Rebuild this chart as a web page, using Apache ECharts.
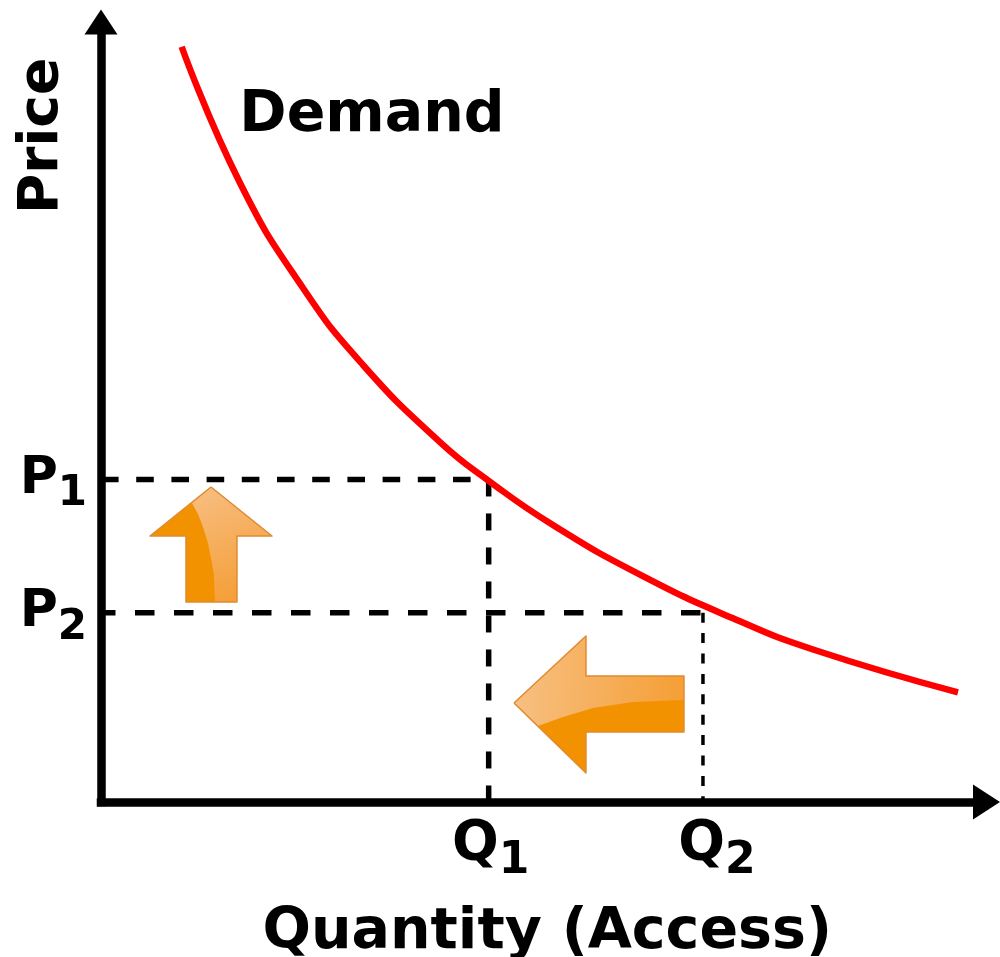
<!DOCTYPE html>
<html><head><meta charset="utf-8">
<style>html,body{margin:0;padding:0;background:#fff}#c{width:1000px;height:957px}</style>
<script src="https://cdn.jsdelivr.net/npm/echarts@6/dist/echarts.min.js"></script>
</head><body><div id="c"></div>
<script>
const demandCurve = [[9.11,96.83],[15.70,79.36],[22.81,65.90],[29.59,56.03],[38.28,46.15],[43.82,41.15],[51.04,35.51],[60.87,29.15],[71.37,23.55],[80.41,19.55],[96.78,14.06]];
const P1 = 41.35, P2 = 24.27, Q1 = 43.78, Q2 = 67.98;
const priceTicks = [P2, P1];
const quantityTicks = [Q1, Q2];
const priceLabels = {[P1]:'{m|P}{s|1}',[P2]:'{m|P}{s|2}'};
const quantityLabels = {[Q1]:'{q1|Q}{s2|1}',[Q2]:'{q2|Q}{s2|2}'};
const demandLabel = [[30.6,87.9]];
const arrows = [[12.42,32.95,'up'],[56.35,12.44,'left']];

const FONT = '"DejaVu Sans"';
const arrowShapes = {
  up:{ outline:[[0,-58],[61,-9],[26,-9],[26,57],[-25,57],[-25,-9],[-61,-9]],
       light:[[-19,-42],[0,-58],[61,-9],[26,-9],[26,57],[4,57],[3,30],[1,18],[-3,-2],[-8,-18],[-13,-31]],
       lightFill:[0.2,0,0.8,1,'#f7bd80','#f59c30']},
  left:{ outline:[[-86,-2],[-14,-69],[-14,-29],[84,-29],[84,27],[-14,27],[-14,68]],
       light:[[-62,21],[-86,-2],[-14,-69],[-14,-29],[84,-29],[84,-5],[33,-3],[-7,3],[-37,12]],
       lightFill:[0,0.2,1,0.3,'#f7c083','#f59f36']}
};
function renderArrow(params, api){
  const c = api.coord([api.value(0),api.value(1)]);
  const s = arrowShapes[arrows[params.dataIndex][2]];
  const g = s.lightFill;
  return {type:'group',x:c[0],y:c[1],children:[
    {type:'polygon',shape:{points:s.outline},style:{fill:'#f39200'}},
    {type:'polygon',shape:{points:s.light},style:{fill:new echarts.graphic.LinearGradient(g[0],g[1],g[2],g[3],[{offset:0,color:g[4]},{offset:1,color:g[5]}])}},
    {type:'polyline',shape:{points:s.outline.concat([s.outline[0]])},style:{fill:null,stroke:'#e08a32',lineWidth:1.5,lineJoin:'round'}}
  ]};
}
const rich = {
  m:{fontFamily:FONT,fontWeight:'bold',fontSize:52,color:'#000'},
  s:{fontFamily:FONT,fontWeight:'bold',fontSize:42,color:'#000',verticalAlign:'bottom',padding:[34,0,4,0]},
  q1:{fontFamily:FONT,fontWeight:'bold',fontSize:55,color:'#000',padding:[0,0,0,4]},
  q2:{fontFamily:FONT,fontWeight:'bold',fontSize:55,color:'#000',padding:[0,0,0,28]},
  s2:{fontFamily:FONT,fontWeight:'bold',fontSize:44,color:'#000',verticalAlign:'bottom',padding:[34,0,0,0]}
};
const chart = echarts.init(document.getElementById('c'),null,{renderer:'canvas'});
chart.setOption({
  animation:false,
  backgroundColor:'#fff',
  grid:{left:101,right:13.5,top:22,bottom:155,outerBoundsMode:'none'},
  xAxis:{type:'value',min:0,max:100,
    name:'Quantity (Access)',nameLocation:'middle',nameGap:103,
    nameTextStyle:{fontFamily:FONT,fontWeight:'bold',fontSize:57,color:'#000',padding:[0,0,0,7]},
    axisLine:{onZero:false,lineStyle:{color:'#000',width:8.5,cap:'square'},symbol:['none','triangle'],symbolSize:[35,27]},
    axisTick:{show:false},splitLine:{show:false},
    axisLabel:{customValues:quantityTicks,margin:4,formatter:v=>quantityLabels[v],rich}
  },
  yAxis:{type:'value',min:0,max:100,
    name:'Price',nameLocation:'end',nameRotate:90,nameGap:-192,
    nameTextStyle:{fontFamily:FONT,fontWeight:'bold',fontSize:55,color:'#000',verticalAlign:'bottom',padding:[0,0,31,0]},
    axisLine:{onZero:false,lineStyle:{color:'#000',width:8.5,cap:'square'},symbol:['none','triangle'],symbolSize:[33,25]},
    axisTick:{show:false},splitLine:{show:false},
    axisLabel:{customValues:priceTicks,margin:14,formatter:v=>priceLabels[v],rich}
  },
  series:[
    {name:'P2 guide',type:'line',symbol:'none',silent:true,data:[[0,P2],[Q2,P2]],lineStyle:{color:'#000',width:5.5,type:[19.5,19.5],dashOffset:5}},
    {name:'Q2 drop',type:'line',symbol:'none',silent:true,data:[[Q2,P2],[Q2,0]],lineStyle:{color:'#000',width:3.5,type:[10,10.4]}},
    {name:'P1 guide',type:'line',symbol:'none',silent:true,data:[[0,P1],[Q1,P1]],lineStyle:{color:'#000',width:5.5,type:[17.6,17.6]}},
    {name:'Q1 drop',type:'line',symbol:'none',silent:true,data:[[Q1,P1],[Q1,0]],lineStyle:{color:'#000',width:5.5,type:[17,17]}},
    {name:'Demand',type:'line',symbol:'none',smooth:0.5,data:demandCurve,lineStyle:{color:'#ff0000',width:6.5,cap:'butt'},z:5},
    {name:'Demand label',type:'scatter',symbolSize:0,data:demandLabel,z:6,itemStyle:{opacity:1},
      label:{show:true,position:'inside',formatter:'Demand',fontFamily:FONT,fontWeight:'bold',fontSize:57,color:'#000'}},
    {name:'Arrows',type:'custom',data:arrows,renderItem:renderArrow,encode:{x:0,y:1},z:4,silent:true}
  ]
});
</script></body></html>
